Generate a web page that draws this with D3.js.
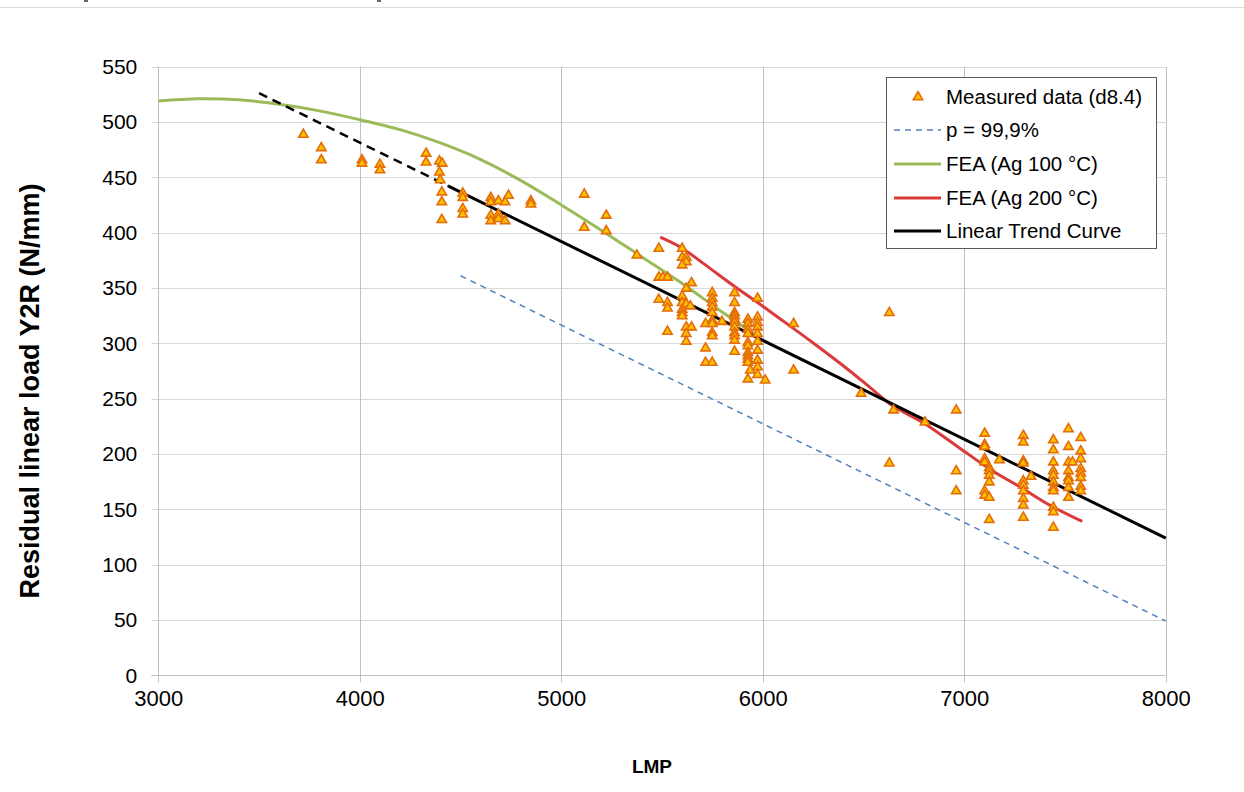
<!DOCTYPE html>
<html><head><meta charset="utf-8">
<script src="https://cdn.jsdelivr.net/npm/d3@7"></script>
<style>
html,body{margin:0;padding:0;background:#fff;}
svg{display:block;font-family:Arial,"Liberation Sans",sans-serif;}
</style></head>
<body>
<svg id="chart" width="1244" height="792"></svg>
<script>
// ---- data ----
const xTicks = [3000, 4000, 5000, 6000, 7000, 8000];
const yTicks = [0, 50, 100, 150, 200, 250, 300, 350, 400, 450, 500, 550];
const measured = [
 [3720,489],[3809,477],[3809,466],[4011,466],[4011,463],[4100,462],[4100,457],[4329,472],[4329,464],[4395,465],[4409,463],[4395,455],[4399,448],[4407,437],[4407,428],[4407,412],[4511,436],[4511,432],[4511,422],[4511,417],[4650,432],[4650,428],[4688,429],[4721,428],[4738,434],[4650,416],[4650,411],[4688,417],[4688,413],[4721,411],[4849,429],[4849,426],
 [5114,435],[5223,416],[5114,405],[5223,402],[5375,380],[5484,386],[5484,360],[5504,360],[5527,360],[5484,340],[5527,337],[5527,332],[5527,311],
 [5600,386],[5600,378],[5620,378],[5620,374],[5600,371],[5646,355],[5620,350],[5600,343],[5600,337],[5620,336],[5640,334],[5600,331],[5600,328],[5600,325],[5620,315],[5646,315],[5620,309],[5620,302],[5716,318],[5716,296],[5716,283],[5749,283],
 [5749,346],[5749,341],[5749,337],[5749,333],[5749,328],[5749,321],[5749,318],[5749,310],[5749,307],[5797,320],
 [5860,346],[5860,337],[5860,328],[5860,325],[5860,322],[5860,319],[5860,315],[5860,310],[5860,307],[5860,303],[5860,293],
 [5926,322],[5926,318],[5926,313],[5926,309],[5926,301],[5926,298],[5926,292],[5926,289],[5926,286],[5926,283],[5938,276],[5926,268],
 [5974,341],[5974,324],[5974,319],[5974,315],[5974,309],[5974,302],[5974,294],[5974,285],[5974,279],[5974,272],[6012,267],
 [6153,318],[6153,276],[6488,255],[6628,328],[6628,192],[6649,240],[6805,229],
 [6960,240],[6960,185],[6960,167],
 [7101,219],[7101,209],[7101,207],[7101,196],[7101,193],[7124,188],[7124,185],[7124,181],[7124,175],[7101,167],[7101,163],[7124,161],[7124,141],[7174,195],
 [7293,217],[7293,211],[7293,194],[7293,192],[7293,176],[7293,172],[7293,167],[7293,160],[7293,154],[7293,143],[7331,180],
 [7442,213],[7442,204],[7442,193],[7442,185],[7442,181],[7442,175],[7442,170],[7442,167],[7442,152],[7442,148],[7442,134],
 [7517,223],[7517,207],[7517,193],[7537,193],[7517,185],[7517,179],[7517,176],[7517,170],[7517,161],
 [7578,215],[7578,203],[7578,196],[7578,187],[7578,183],[7578,179],[7578,171],[7578,167]
];
const pLine = [[4500,361],[8000,49]];
const fea100 = [[3000,519],[3200,521],[3400,520],[3600,516],[3800,510],[4000,502],[4200,493],[4400,481],[4600,466],[4800,447],[5000,425],[5200,402],[5400,378],[5600,354],[5800,328],[5954,309]];
const fea200 = [[5491,396],[5590,387],[5706,372],[5855,352],[5988,335],[6087,322],[6252,300],[6418,277],[6533,260],[6649,243],[6798,228],[6964,207],[7129,186],[7278,170],[7411,155],[7585,139]];
const trendDashed = [[3500,526],[4440,442]];
const trendSolid = [[4440,442],[8000,124]];
const legendLabels = ["Measured data (d8.4)", "p = 99,9%", "FEA (Ag 100 °C)", "FEA (Ag 200 °C)", "Linear Trend Curve"];

// ---- layout ----
const svg = d3.select("#chart");
const L = 158.3, R = 1165.8, T = 66.6, B = 675.3;
const x = d3.scaleLinear().domain([3000, 8000]).range([L, R]);
const y = d3.scaleLinear().domain([0, 550]).range([B, T]);

// top remnant line
svg.append("line").attr("x1",0).attr("x2",1244).attr("y1",7.5).attr("y2",7.5).attr("stroke","#dcdcdc").attr("stroke-width",1);
svg.append("rect").attr("x",84).attr("y",0).attr("width",4).attr("height",2).attr("fill","#666");
svg.append("rect").attr("x",377).attr("y",0).attr("width",4).attr("height",2).attr("fill","#666");

// grid
svg.append("g").selectAll("line").data(yTicks).join("line")
  .attr("x1", L - 7).attr("x2", R).attr("y1", d => Math.round(y(d)) + 0.5).attr("y2", d => Math.round(y(d)) + 0.5)
  .attr("stroke", d => d === 0 ? "#bfbfbf" : "#d9d9d9").attr("stroke-width", 1);
svg.append("g").selectAll("line").data(xTicks).join("line")
  .attr("x1", d => Math.round(x(d)) + 0.5).attr("x2", d => Math.round(x(d)) + 0.5).attr("y1", T).attr("y2", B + 7)
  .attr("stroke", "#c0c0c0").attr("stroke-width", 1);

// axes labels via d3 axes (tick text only)
const xAxis = svg.append("g").attr("transform", `translate(0,${B})`)
  .call(d3.axisBottom(x).tickValues(xTicks).tickSize(0).tickPadding(15).tickFormat(d3.format("d")));
xAxis.select(".domain").remove();
xAxis.selectAll("text").attr("font-size", 22).attr("fill", "#000").attr("font-family", "Arial, Liberation Sans, sans-serif");
const yAxis = svg.append("g").attr("transform", `translate(${L},0)`)
  .call(d3.axisLeft(y).tickValues(yTicks).tickSize(0).tickPadding(21).tickFormat(d3.format("d")));
yAxis.select(".domain").remove();
yAxis.selectAll("text").attr("font-size", 21).attr("fill", "#000").attr("font-family", "Arial, Liberation Sans, sans-serif");

// axis titles
svg.append("text").attr("x", 652).attr("y", 773).attr("text-anchor", "middle")
  .attr("font-size", 19).attr("font-weight", "bold").text("LMP");
svg.append("text").attr("transform", "translate(39,391) rotate(-90)").attr("text-anchor", "middle")
  .attr("font-size", 27).attr("font-weight", "bold").text("Residual linear load Y2R (N/mm)");

const line = d3.line().x(d => x(d[0])).y(d => y(d[1]));
const curve = d3.line().x(d => x(d[0])).y(d => y(d[1])).curve(d3.curveCatmullRom.alpha(0.5));

// p line
svg.append("path").datum(pLine).attr("d", line).attr("fill", "none")
  .attr("stroke", "#4f81bd").attr("stroke-width", 1.5).attr("stroke-dasharray", "6,5");
// FEA 100
svg.append("path").datum(fea100).attr("d", curve).attr("fill", "none")
  .attr("stroke", "#9bbb59").attr("stroke-width", 3);
// FEA 200
svg.append("path").datum(fea200).attr("d", curve).attr("fill", "none")
  .attr("stroke", "#dc3a3a").attr("stroke-width", 3);
// trend
svg.append("path").datum(trendDashed).attr("d", line).attr("fill", "none")
  .attr("stroke", "#000").attr("stroke-width", 2.5).attr("stroke-dasharray", "9,6");
svg.append("path").datum(trendSolid).attr("d", line).attr("fill", "none")
  .attr("stroke", "#000").attr("stroke-width", 3);

// measured points
const tri = d3.symbol().type(d3.symbolTriangle).size(38);
svg.append("g").selectAll("path").data(measured).join("path")
  .attr("d", tri).attr("transform", d => `translate(${x(d[0])},${y(d[1]) + 0.5})`)
  .attr("fill", "#ffc000").attr("stroke", "#e46c0a").attr("stroke-width", 1.6);

// legend
const lg = svg.append("g");
lg.append("rect").attr("x", 886.5).attr("y", 77.5).attr("width", 270).attr("height", 171)
  .attr("fill", "#fff").attr("stroke", "#595959").attr("stroke-width", 1);
const rowY = [97, 130, 164, 198, 231];
lg.append("path").attr("d", tri).attr("transform", `translate(918,${rowY[0]})`)
  .attr("fill", "#ffc000").attr("stroke", "#e46c0a").attr("stroke-width", 1.6);
lg.append("line").attr("x1", 894).attr("x2", 941).attr("y1", rowY[1]).attr("y2", rowY[1])
  .attr("stroke", "#4f81bd").attr("stroke-width", 1.5).attr("stroke-dasharray", "6,5");
lg.append("line").attr("x1", 894).attr("x2", 941).attr("y1", rowY[2]).attr("y2", rowY[2])
  .attr("stroke", "#9bbb59").attr("stroke-width", 3);
lg.append("line").attr("x1", 894).attr("x2", 941).attr("y1", rowY[3]).attr("y2", rowY[3])
  .attr("stroke", "#dc3a3a").attr("stroke-width", 3);
lg.append("line").attr("x1", 894).attr("x2", 941).attr("y1", rowY[4]).attr("y2", rowY[4])
  .attr("stroke", "#000").attr("stroke-width", 3);
lg.selectAll("text.lab").data(legendLabels).join("text").attr("class", "lab")
  .attr("x", 946).attr("y", (d, i) => rowY[i]).attr("dy", "0.35em")
  .attr("font-size", 20.5).attr("fill", "#000").text(d => d);
</script>
</body></html>
